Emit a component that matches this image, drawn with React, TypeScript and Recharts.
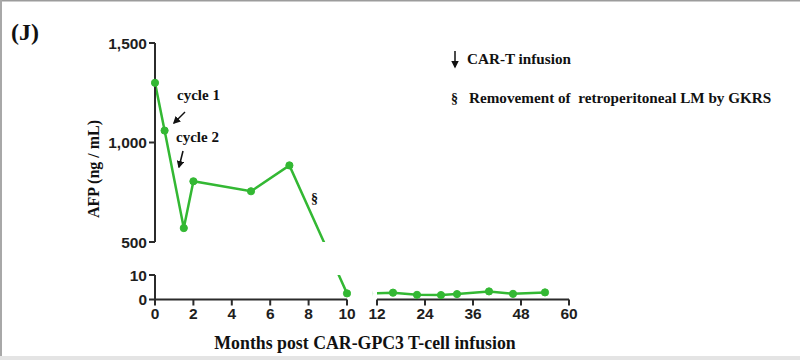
import { Line, LineChart, XAxis, YAxis } from 'recharts';

// AFP readings (ng/mL) by months after CAR-GPC3 T-cell infusion
const months = [0, 0.5, 1.5, 2, 5, 7, 10, 16, 22, 28, 32, 40, 46, 54];
const afp = [1300, 1060, 570, 805, 755, 885, 2.5, 2.8, 1.9, 1.8, 2.2, 3.3, 2.3, 2.9];

const upperTicks = [500, 1000, 1500];
const lowerTicks = [0, 10];
const earlyMonthTicks = [0, 2, 4, 6, 8, 10];
const lateMonthTicks = [12, 24, 36, 48, 60];

// panel layout (px) for the broken axes
const W = 800;
const H = 360;
const UP_TOP = 43;
const UP_BOT = 242;
const LO_TOP = 275;
const LO_BOT = 299.5;
const LEFT_X0 = 155;
const LEFT_X1 = 347;
const RIGHT_X0 = 377;
const RIGHT_X1 = 569;

const pxPerLow = (LO_BOT - LO_TOP) / 10;
const pxPerHigh = (UP_BOT - UP_TOP) / 1000;

// maps a value onto one shared axis so the line stays straight across the break
const brk = (v: number) =>
  v <= 10 ? v : 10 + (LO_TOP - UP_BOT) / pxPerLow + ((v - 500) * pxPerHigh) / pxPerLow;

const chartData = months.map((m, i) => ({ month: m, afp: brk(afp[i]) }));

const GREEN = '#33b833';
const AXIS = '#2b2b2b';
const serif = "'Liberation Serif', 'Times New Roman', serif";
const sans = "'Liberation Sans', Arial, sans-serif";

const tickStyle = { fill: '#1e1e1e', fontSize: 15.5, fontWeight: 700, fontFamily: sans };
const axisLine = { stroke: AXIS, strokeWidth: 2 };

const fmt = (list: number[]) => (v: number) => {
  const hit = list.find((t) => Math.abs(brk(t) - v) < 1e-6);
  return hit === undefined ? '' : hit.toLocaleString('en-US');
};

const Series = () => (
  <Line
    dataKey="afp"
    type="linear"
    stroke={GREEN}
    strokeWidth={2.5}
    dot={{ r: 3.6, fill: GREEN, stroke: GREEN, strokeWidth: 1, clipDot: false }}
    activeDot={false}
    isAnimationActive={false}
  />
);

const layer: React.CSSProperties = { position: 'absolute', left: 0, top: 0 };

export default function App() {
  return (
    <div
      style={{
        position: 'fixed',
        left: 0,
        top: 0,
        width: W,
        height: H,
        background: '#fff',
        overflow: 'hidden',
      }}
    >
      {/* upper panel: 500 - 1,500 */}
      <div style={layer}>
        <LineChart
          width={W}
          height={H}
          data={chartData}
          margin={{ top: UP_TOP, right: W - LEFT_X1, bottom: H - UP_BOT, left: 0 }}
        >
          <XAxis dataKey="month" type="number" domain={[0, 10]} allowDataOverflow hide />
          <YAxis
            type="number"
            width={LEFT_X0}
            domain={[brk(500), brk(1500)]}
            ticks={upperTicks.map(brk)}
            tickFormatter={fmt(upperTicks)}
            allowDataOverflow
            tick={tickStyle}
            tickLine={axisLine}
            axisLine={axisLine}
            tickSize={6}
          />
          {Series()}
        </LineChart>
      </div>

      {/* lower-left panel: 0 - 10, months 0 - 10 */}
      <div style={layer}>
        <LineChart
          width={W}
          height={H}
          data={chartData}
          margin={{ top: LO_TOP, right: W - LEFT_X1, bottom: H - LO_BOT - 30, left: 0 }}
        >
          <XAxis
            dataKey="month"
            type="number"
            domain={[0, 10]}
            ticks={earlyMonthTicks}
            allowDataOverflow
            height={30}
            tick={tickStyle}
            tickLine={axisLine}
            axisLine={axisLine}
            tickSize={6}
          />
          <YAxis
            type="number"
            width={LEFT_X0}
            domain={[0, 10]}
            ticks={lowerTicks}
            tickFormatter={fmt(lowerTicks)}
            allowDataOverflow
            tick={tickStyle}
            tickLine={axisLine}
            axisLine={axisLine}
            tickSize={6}
          />
          {Series()}
        </LineChart>
      </div>

      {/* lower-right panel: months 12 - 60 */}
      <div style={layer}>
        <LineChart
          width={W}
          height={H}
          data={chartData}
          margin={{ top: LO_TOP, right: W - RIGHT_X1, bottom: H - LO_BOT - 30, left: RIGHT_X0 }}
        >
          <XAxis
            dataKey="month"
            type="number"
            domain={[12, 60]}
            ticks={lateMonthTicks}
            allowDataOverflow
            height={30}
            tick={tickStyle}
            tickLine={axisLine}
            axisLine={axisLine}
            tickSize={6}
          />
          <YAxis type="number" domain={[0, 10]} allowDataOverflow hide />
          {Series()}
        </LineChart>
      </div>

      {/* titles and annotations */}
      <svg width={W} height={H} style={{ ...layer, pointerEvents: 'none' }}>
        <defs>
          <marker id="head" viewBox="0 0 10 10" refX="8" refY="5" markerWidth="5" markerHeight="5" orient="auto">
            <path d="M0,0 L10,5 L0,10 z" fill="#111" />
          </marker>
        </defs>
        <text x={11} y={40} fontFamily={serif} fontWeight={700} fontSize={24} fill="#111">
          (J)
        </text>
        <text
          x={0}
          y={0}
          transform="translate(99,169) rotate(-90)"
          textAnchor="middle"
          fontFamily={serif}
          fontWeight={700}
          fontSize={16}
          fill="#111"
        >
          AFP (ng / mL)
        </text>
        <text x={365} y={349} textAnchor="middle" fontFamily={serif} fontWeight={700} fontSize={17.8} fill="#111">
          Months post CAR-GPC3 T-cell infusion
        </text>

        <text x={177} y={100} fontFamily={serif} fontWeight={700} fontSize={15} fill="#111">
          cycle 1
        </text>
        <line x1={185} y1={112} x2={174} y2={123} stroke="#111" strokeWidth={1.5} markerEnd="url(#head)" />
        <text x={176} y={142} fontFamily={serif} fontWeight={700} fontSize={15} fill="#111">
          cycle 2
        </text>
        <line x1={183} y1={151} x2={179} y2={167} stroke="#111" strokeWidth={1.5} markerEnd="url(#head)" />
        <text x={311} y={203} fontFamily={serif} fontWeight={700} fontSize={14} fill="#111">
          §
        </text>

        <line x1={455} y1={51} x2={455} y2={67} stroke="#111" strokeWidth={1.5} markerEnd="url(#head)" />
        <text x={467} y={64} fontFamily={serif} fontWeight={700} fontSize={15.2} fill="#111">
          CAR-T infusion
        </text>
        <text x={451} y={103} fontFamily={serif} fontWeight={700} fontSize={14} fill="#111">
          §
        </text>
        <text
          x={469}
          y={103}
          fontFamily={serif}
          fontWeight={700}
          fontSize={15.2}
          fill="#111"
          style={{ whiteSpace: 'pre' }}
        >
          {'Removement of  retroperitoneal LM by GKRS'}
        </text>

        {/* photo frame edges */}
        <rect x={0} y={0} width={W} height={1.5} fill="#9c9c9c" />
        <rect x={0} y={0} width={2} height={H} fill="#a8a8a8" />
        <rect x={0} y={356} width={W} height={4} fill="#e4e4e4" />
      </svg>
    </div>
  );
}
